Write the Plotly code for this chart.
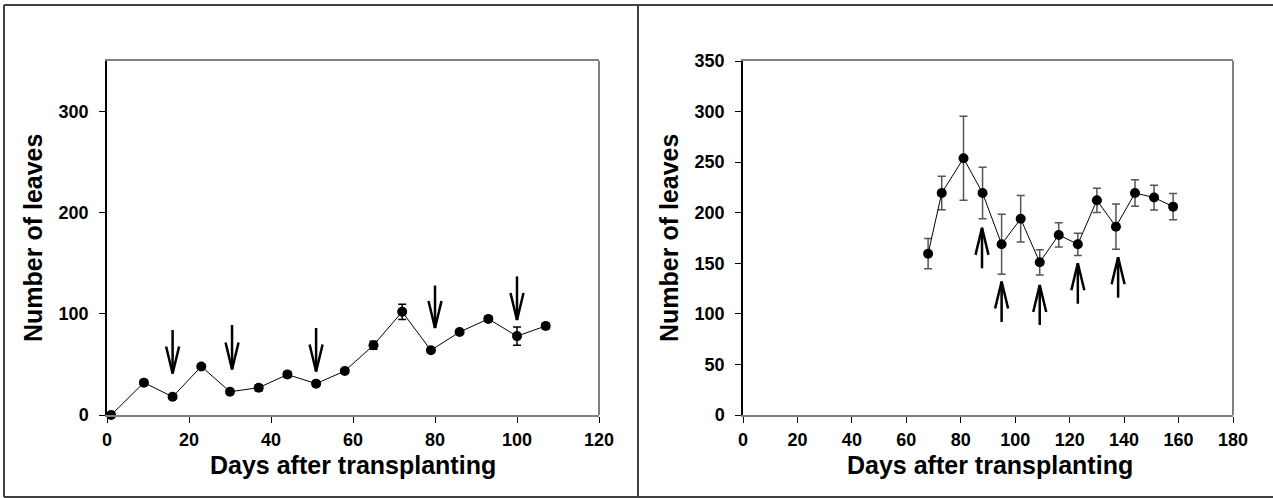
import plotly.graph_objects as go

# ---------------- data ----------------
left_days = [1, 9, 16, 23, 30, 37, 44, 51, 58, 65, 72, 79, 86, 93, 100, 107]
left_leaves = [0, 32, 18, 48, 23, 27, 40, 31, 43.5, 69, 102, 64, 82, 95, 78, 88]
left_err = [1, 2, 2, 2, 2, 3, 3, 2, 2, 4, 7.5, 2, 2, 2, 9, 3]

left_arrow_days = [16, 30.5, 51, 80, 100]
left_arrow_start = [84, 89, 86, 128, 137]   # arrow tail (top)
left_arrow_tip = [41, 45, 43, 86, 94]       # arrow head (pointing down)

right_days = [68, 73, 81, 88, 95, 102, 109, 116, 123, 130, 137, 144, 151, 158]
right_leaves = [159.5, 219.5, 253.8, 219.5, 168.8, 194, 151, 178, 168.8, 212.3, 186.2, 219.5, 215, 206]
right_err = [15, 16.5, 41.5, 25.5, 29.7, 23, 12.5, 12, 11, 12, 22.4, 13, 12.2, 13]

right_arrow_days = [87.8, 95, 109, 123, 137.8]
right_arrow_start = [145, 92, 89, 110, 116]  # arrow tail (bottom)
right_arrow_tip = [185, 132, 128.5, 150, 156]  # arrow head (pointing up)

left_xticks = [0, 20, 40, 60, 80, 100, 120]
left_yticks = [0, 100, 200, 300]
right_xticks = [0, 20, 40, 60, 80, 100, 120, 140, 160, 180]
right_yticks = [0, 50, 100, 150, 200, 250, 300, 350]

x_title = "Days after transplanting"
y_title = "Number of leaves"

# ---------------- layout geometry ----------------
W, H = 1273, 498
left_dom = [107 / W, 599 / W]
right_dom = [743 / W, 1233 / W]
y_dom = [1 - 415 / H, 1 - 61 / H]
left_xrange = [0, 120]
right_xrange = [0, 180]
yrange = [0, 350]

FONT = "Arial, Liberation Sans, sans-serif"


def arrow_path(days, start, tip, dom, xr):
    """Build shaft + open V head polylines in data units."""
    px_per_x = (dom[1] - dom[0]) * W / (xr[1] - xr[0])
    px_per_y = (y_dom[1] - y_dom[0]) * H / (yrange[1] - yrange[0])
    head_len = 27 / px_per_y
    head_half = 6.5 / px_per_x
    xs, ys = [], []
    for d, s, t in zip(days, start, tip):
        sign = 1 if s > t else -1  # head side points back towards the tail
        xs += [d, d, None, d - head_half, d, d + head_half, None]
        ys += [s, t, None, t + sign * head_len, t, t + sign * head_len, None]
    return xs, ys


fig = go.Figure()

# left series
fig.add_trace(go.Scatter(
    x=left_days, y=left_leaves, mode="lines+markers",
    line=dict(color="black", width=1),
    marker=dict(color="black", size=10),
    error_y=dict(type="data", array=left_err, color="black", thickness=1.5, width=4),
    cliponaxis=False, xaxis="x", yaxis="y", showlegend=False,
))
ax, ay = arrow_path(left_arrow_days, left_arrow_start, left_arrow_tip, left_dom, left_xrange)
fig.add_trace(go.Scatter(
    x=ax, y=ay, mode="lines", line=dict(color="black", width=2.5),
    xaxis="x", yaxis="y", showlegend=False, hoverinfo="skip",
))

# right series
fig.add_trace(go.Scatter(
    x=right_days, y=right_leaves, mode="lines+markers",
    line=dict(color="black", width=1),
    marker=dict(color="black", size=10),
    error_y=dict(type="data", array=right_err, color="#555555", thickness=1.5, width=4),
    cliponaxis=False, xaxis="x2", yaxis="y2", showlegend=False,
))
bx, by = arrow_path(right_arrow_days, right_arrow_start, right_arrow_tip, right_dom, right_xrange)
fig.add_trace(go.Scatter(
    x=bx, y=by, mode="lines", line=dict(color="black", width=2.5),
    xaxis="x2", yaxis="y2", showlegend=False, hoverinfo="skip",
))

tickfont = dict(family=FONT, size=18, color="black", weight="bold")
xcommon = dict(showline=True, linecolor="#808080", linewidth=2, mirror=True,
               ticks="outside", ticklen=6, tickwidth=1, tickcolor="black",
               showgrid=False, zeroline=False, tickfont=tickfont,
               automargin=False, ticklabelstandoff=1)
ycommon = dict(showline=True, linecolor="black", linewidth=1.5, mirror=False,
               ticks="outside", ticklen=6, tickwidth=1, tickcolor="black",
               showgrid=False, zeroline=False, tickfont=tickfont, range=yrange,
               automargin=False, ticklabelstandoff=7)

fig.update_layout(
    template="none",
    width=W, height=H,
    margin=dict(l=0, r=0, t=0, b=0, pad=0, autoexpand=False),
    paper_bgcolor="white", plot_bgcolor="white",
    xaxis=dict(domain=left_dom, range=left_xrange, tickvals=left_xticks, anchor="y", **xcommon),
    yaxis=dict(domain=y_dom, tickvals=left_yticks, anchor="x", **ycommon),
    xaxis2=dict(domain=right_dom, range=right_xrange, tickvals=right_xticks, anchor="y2", **xcommon),
    yaxis2=dict(domain=y_dom, tickvals=right_yticks, anchor="x2", **ycommon),
)

titlefont = dict(family=FONT, size=25, color="black", weight="bold")
annos = [
    dict(text=x_title, x=353 / W, y=1 - 465 / H),
    dict(text=x_title, x=990 / W, y=1 - 465 / H),
    dict(text=y_title, x=33 / W, y=1 - 238 / H, textangle=-90),
    dict(text=y_title, x=669 / W, y=1 - 238 / H, textangle=-90),
]
for a in annos:
    fig.add_annotation(xref="paper", yref="paper", showarrow=False,
                       xanchor="center", yanchor="middle", font=titlefont, **a)

# right border of each plot box (grey)
for xr_ref, yr_ref in [("x domain", "y domain"), ("x2 domain", "y2 domain")]:
    fig.add_shape(type="line", xref=xr_ref, yref=yr_ref, x0=1, x1=1, y0=0, y1=1,
                  line=dict(color="#808080", width=2))

# outer frame lines
frame = dict(color="#404040", width=2)
fig.add_shape(type="line", xref="paper", yref="paper", x0=4 / W, x1=1, y0=1 - 5 / H, y1=1 - 5 / H, line=frame)
fig.add_shape(type="line", xref="paper", yref="paper", x0=4 / W, x1=1, y0=1 - 497 / H, y1=1 - 497 / H, line=frame)
fig.add_shape(type="line", xref="paper", yref="paper", x0=4 / W, x1=4 / W, y0=1 - 497 / H, y1=1 - 5 / H, line=frame)
fig.add_shape(type="line", xref="paper", yref="paper", x0=638 / W, x1=638 / W, y0=1 - 497 / H, y1=1 - 5 / H, line=frame)

fig.write_html("out.html")
